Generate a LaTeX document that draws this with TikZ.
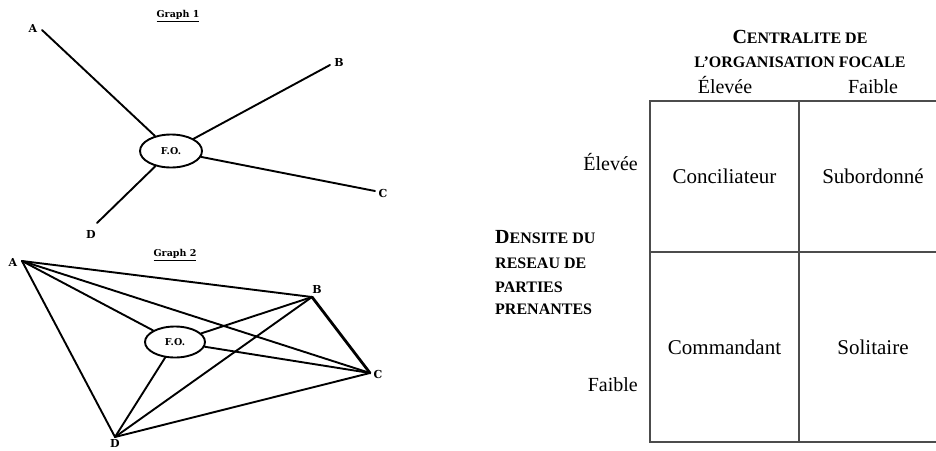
\documentclass[tikz,border=0pt]{standalone}
\usepackage{fontspec}
\setmainfont{Liberation Serif}
\newfontfamily\graphfont{DejaVu Serif}
\usetikzlibrary{shapes.geometric}

% fake bold small caps: first letter large, rest smaller capitals
\newcommand{\capbig}[1]{{\fontsize{20}{20}\selectfont #1}}
\newcommand{\capsmall}[1]{{\fontsize{16}{16}\selectfont #1}}

\begin{document}
\begin{tikzpicture}[x=1pt,y=-1pt,
  edge/.style={line width=1.9pt, line cap=round},
  heavy/.style={line width=2.8pt, line cap=round},
  focal/.style={ellipse, draw, line width=1.9pt, inner sep=0pt,
    minimum width=62pt, minimum height=33pt,
    font=\graphfont\bfseries\fontsize{9.5}{9.5}\selectfont},
  vlbl/.style={font=\graphfont\bfseries\fontsize{11}{11}\selectfont, inner sep=0pt},
  gtitle/.style={font=\graphfont\bfseries\fontsize{9.5}{9.5}\selectfont, inner sep=0pt},
  cell/.style={draw=black!70, line width=1.1pt, font=\fontsize{21}{21}\selectfont},
  axis/.style={font=\fontsize{20}{20}\selectfont, inner sep=0pt, anchor=base},
  axisr/.style={font=\fontsize{20}{20}\selectfont, inner sep=0pt, anchor=base east},
  head/.style={font=\bfseries, inner sep=0pt, anchor=base},
  headl/.style={font=\bfseries, inner sep=0pt, anchor=base west}
]
\useasboundingbox (0,0) rectangle (936,450);
\clip (0,0) rectangle (936,450);

% ---------------- Graph 1 : star around the focal organisation
\node[gtitle] (g1) at (178,16) {\underline{Graph 1}};
\node[focal] (fo1) at (171,151) {F.O.};
\coordinate (a1) at (42,30);
\coordinate (b1) at (330,65);
\coordinate (c1) at (375,191);
\coordinate (d1) at (97,223);
\node[vlbl] (la1) at (33,28) {A};
\node[vlbl] (lb1) at (339,62) {B};
\node[vlbl] (lc1) at (383,193) {C};
\node[vlbl] (ld1) at (91,234) {D};
\draw[edge] (a1) -- (fo1);
\draw[edge] (b1) -- (fo1);
\draw[edge] (c1) -- (fo1);
\draw[edge] (d1) -- (fo1);

% ---------------- Graph 2 : dense network
\node[gtitle] (g2) at (175,255) {\underline{Graph 2}};
\node[focal, minimum width=60pt, minimum height=31pt] (fo2) at (175,342) {F.O.};
\coordinate (a2) at (22,261);
\coordinate (b2) at (312,297);
\coordinate (c2) at (370,373);
\coordinate (d2) at (115,437);
\node[vlbl] (la2) at (13,262) {A};
\node[vlbl] (lb2) at (317,289) {B};
\node[vlbl] (lc2) at (378,374) {C};
\node[vlbl] (ld2) at (115,443.5) {D};
\draw[edge] (a2) -- (b2);
\draw[edge] (a2) -- (c2);
\draw[edge] (a2) -- (d2);
\draw[edge] (a2) -- (fo2);
\draw[heavy] (b2) -- (c2);
\draw[edge] (b2) -- (fo2);
\draw[edge] (b2) -- (d2);
\draw[edge] (c2) -- (fo2);
\draw[edge] (c2) -- (d2);
\draw[edge] (d2) -- (fo2);

% ---------------- Typology matrix
\node[head] (h1) at (800,43) {\capbig{C}\capsmall{ENTRALITE DE}};
\node[head] (h2) at (800,67) {\capsmall{L’ORGANISATION FOCALE}};
\node[axis] (ce) at (725,93) {Élevée};
\node[axis] (cf) at (873,93) {Faible};

\node[headl] (v1) at (495,243) {\capbig{D}\capsmall{ENSITE DU}};
\node[headl] (v2) at (495,268) {\capsmall{RESEAU DE}};
\node[headl] (v3) at (495,292) {\capsmall{PARTIES}};
\node[headl] (v4) at (495,314) {\capsmall{PRENANTES}};
\node[axisr] (re) at (638,170) {Élevée};
\node[axisr] (rf) at (638,391) {Faible};

\node[cell, minimum width=149pt, minimum height=151pt] (q1) at (724.5,176.5) {Conciliateur};
\node[cell, minimum width=148pt, minimum height=151pt] (q2) at (873,176.5) {Subordonné};
\node[cell, minimum width=149pt, minimum height=190pt] (q3) at (724.5,347) {Commandant};
\node[cell, minimum width=148pt, minimum height=190pt] (q4) at (873,347) {Solitaire};
\end{tikzpicture}
\end{document}
